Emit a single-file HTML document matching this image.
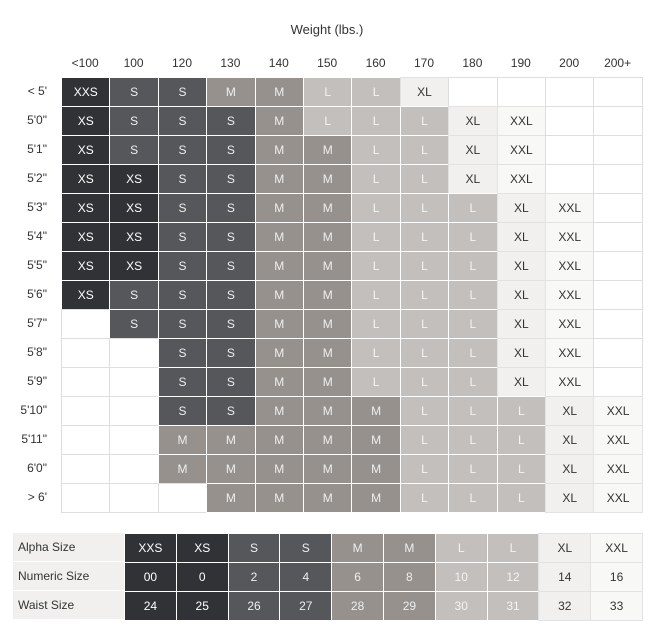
<!DOCTYPE html>
<html><head><meta charset="utf-8"><style>
body{margin:0;background:#fff;font-family:"Liberation Sans",sans-serif;}
#root{position:relative;width:659px;height:638px;overflow:hidden;}
.t{position:absolute;font-size:12px;color:#333;text-align:center;line-height:14px;}
.c{position:absolute;box-sizing:border-box;font-size:12px;text-align:center;display:flex;align-items:center;justify-content:center;}
</style></head><body>
<div id="root">
<div class="t" style="left:260px;top:23px;width:134px;font-size:13px;">Weight (lbs.)</div>
</div>
<script>
const weights=["<100","100","120","130","140","150","160","170","180","190","200","200+"];
const heights=["< 5'","5'0\"","5'1\"","5'2\"","5'3\"","5'4\"","5'5\"","5'6\"","5'7\"","5'8\"","5'9\"","5'10\"","5'11\"","6'0\"","> 6'"];
const grid=[
"XXS,S,S,M,M,L,L,XL,,,,",
"XS,S,S,S,M,L,L,L,XL,XXL,,",
"XS,S,S,S,M,M,L,L,XL,XXL,,",
"XS,XS,S,S,M,M,L,L,XL,XXL,,",
"XS,XS,S,S,M,M,L,L,L,XL,XXL,",
"XS,XS,S,S,M,M,L,L,L,XL,XXL,",
"XS,XS,S,S,M,M,L,L,L,XL,XXL,",
"XS,S,S,S,M,M,L,L,L,XL,XXL,",
",S,S,S,M,M,L,L,L,XL,XXL,",
",,S,S,M,M,L,L,L,XL,XXL,",
",,S,S,M,M,L,L,L,XL,XXL,",
",,S,S,M,M,M,L,L,L,XL,XXL",
",,M,M,M,M,M,L,L,L,XL,XXL",
",,M,M,M,M,M,L,L,L,XL,XXL",
",,,M,M,M,M,L,L,L,XL,XXL"];
const rowLabels=["Alpha Size","Numeric Size","Waist Size"];
const alpha=["XXS","XS","S","S","M","M","L","L","XL","XXL"];
const numeric=["00","0","2","4","6","8","10","12","14","16"];
const waist=["24","25","26","27","28","29","30","31","32","33"];
const bg={XXS:"#303236",XS:"#303236",S:"#55575b",M:"#96918d",L:"#c3bfbc",XL:"#f1f0ef",XXL:"#f8f8f7","":"#fff"};
const fg={XXS:"#fff",XS:"#fff",S:"#eee",M:"#eee",L:"#f4f4f4",XL:"#333",XXL:"#333","":"#333"};
const root=document.getElementById('root');
const X0=61,CW=48.4,Y0=77,RH=29;
const xs=i=>X0+i*CW, ys=j=>Y0+j*RH;
weights.forEach((w,i)=>{const d=document.createElement('div');d.className='t';


d.style.left=xs(i)+'px';d.style.width=CW+'px';d.style.top='56px';d.textContent=w;root.appendChild(d);});
heights.forEach((h,j)=>{const d=document.createElement('div');d.className='t';


d.style.left='0px';d.style.width='47px';d.style.textAlign='right';d.style.top=(ys(j)+7)+'px';d.textContent=h;root.appendChild(d);
grid[j].split(',').forEach((s,i)=>{const c=document.createElement('div');c.className='c';


c.style.left=xs(i)+'px';c.style.top=ys(j)+'px';c.style.width=(CW+1)+'px';c.style.height=(RH+1)+'px';
c.style.background=bg[s];c.style.color=fg[s];
c.style.border=s===''?'1px solid #dedede':'1px solid '+(s==='XL'||s==='XXL'?'#e2e2e2':'#fff');
c.textContent=s;root.appendChild(c);});});
const BX0=124,BCW=51.8,BY0=533,BRH=29;
[alpha,numeric,waist].forEach((arr,j)=>{
const l=document.createElement('div');l.className='c';


l.style.left='13px';l.style.top=(BY0+j*BRH)+'px';l.style.width=(BX0-13)+'px';l.style.height=BRH+'px';
l.style.background='#f1f0ef';l.style.color='#333';l.style.justifyContent='flex-start';l.style.paddingLeft='5px';
l.style.borderBottom='1px solid #fff';l.textContent=rowLabels[j];root.appendChild(l);
arr.forEach((v,i)=>{const s=alpha[i];const c=document.createElement('div');c.className='c';


c.style.left=(BX0+i*BCW)+'px';c.style.top=(BY0+j*BRH)+'px';c.style.width=(BCW+1)+'px';c.style.height=(BRH+1)+'px';
c.style.background=bg[s];c.style.color=fg[s];
c.style.border='1px solid '+(s==='XL'||s==='XXL'?'#e2e2e2':'#fff');
c.textContent=v;root.appendChild(c);});});
</script>
</body></html>
